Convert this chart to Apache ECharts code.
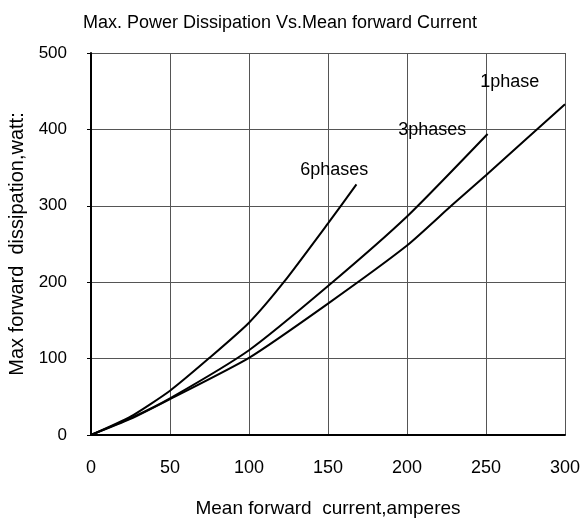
<!DOCTYPE html>
<html>
<head>
<meta charset="utf-8">
<script src="https://cdn.jsdelivr.net/npm/echarts@6/dist/echarts.min.js"></script>
<style>
  html, body { margin: 0; padding: 0; background: #fff; }
  #chart { width: 586px; height: 525px; }
</style>
</head>
<body>
<div id="chart"></div>
<script>
// values (current in A, power in W)
const sixPhases = [[0, 0], [25, 24], [50, 58], [75, 101], [100, 147], [122, 200], [150, 277], [168, 328]]
const threePhases = [[0, 0], [25, 22], [50, 48], [100, 111], [150, 195], [200, 286], [251, 394]]
const onePhase = [[0, 0], [25, 21], [50, 47], [100, 101], [150, 172], [200, 248], [228, 300], [250, 340], [300, 433]]
const curveNames = ['6phases', '3phases', '1phase']
const labelSpots = [[154, 347], [216, 399], [265, 462]]

const font = 'Liberation Sans, Arial, sans-serif'
const chart = echarts.init(document.getElementById('chart'))

const lineSeries = (name, data) => ({
  name: name,
  type: 'line',
  data: data,
  smooth: 0.2,
  showSymbol: false,
  silent: true,
  lineStyle: { color: '#000', width: 2 }
})

chart.setOption({
  animation: false,
  title: {
    text: 'Max. Power Dissipation Vs.Mean forward Current',
    left: 275,
    textAlign: 'center',
    top: 9,
    textStyle: { fontFamily: font, fontSize: 18, fontWeight: 'normal', color: '#000' }
  },
  grid: { left: 91, right: 21, top: 53, bottom: 90, outerBoundsMode: 'none', containLabel: false },
  xAxis: {
    type: 'value',
    min: 0,
    max: 300,
    interval: 50,
    name: 'Mean forward  current,amperes',
    nameLocation: 'middle',
    nameGap: 64,
    nameTextStyle: { fontFamily: font, fontSize: 19, color: '#000' },
    axisLine: { lineStyle: { color: '#000', width: 2 } },
    axisTick: { show: false },
    axisLabel: { fontFamily: font, fontSize: 18, color: '#000', margin: 24 },
    splitLine: { lineStyle: { color: '#555', width: 1 } }
  },
  yAxis: {
    type: 'value',
    min: 0,
    max: 500,
    interval: 100,
    name: 'Max forward  dissipation,watt:',
    nameLocation: 'middle',
    nameGap: 61,
    nameTextStyle: { fontFamily: font, fontSize: 20, color: '#000' },
    axisLine: { show: true, lineStyle: { color: '#000', width: 2 } },
    axisTick: { show: true, length: 4, lineStyle: { color: '#000' } },
    axisLabel: { fontFamily: font, fontSize: 17, color: '#000', margin: 24 },
    splitLine: { lineStyle: { color: '#555', width: 1 } }
  },
  series: [
    lineSeries(curveNames[0], sixPhases),
    lineSeries(curveNames[1], threePhases),
    lineSeries(curveNames[2], onePhase)
  ]
})

// curve labels placed in data space
chart.setOption({
  graphic: curveNames.map((name, i) => {
    const p = chart.convertToPixel({ gridIndex: 0 }, labelSpots[i])
    return {
      type: 'text',
      x: p[0],
      y: p[1],
      style: {
        text: name,
        fontFamily: font,
        fontSize: 18,
        fill: '#000',
        align: 'center',
        verticalAlign: 'middle'
      }
    }
  })
})
</script>
</body>
</html>
